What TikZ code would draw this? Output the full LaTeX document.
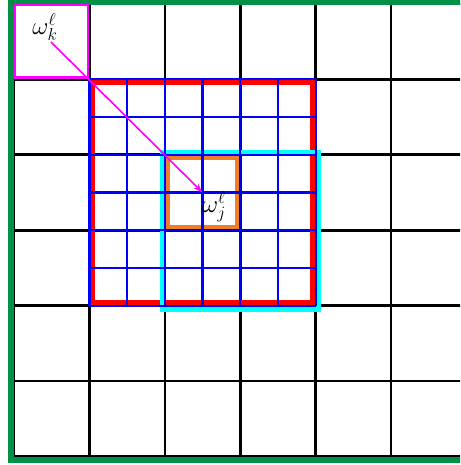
\documentclass[tikz,border=0pt]{standalone}
\usetikzlibrary{arrows.meta}
\definecolor{gborder}{RGB}{0,145,70}
\definecolor{orng}{RGB}{240,125,40}
\definecolor{cyn}{RGB}{0,255,255}
\definecolor{mgt}{RGB}{255,0,255}
\definecolor{rd}{RGB}{255,0,0}
\definecolor{bl}{RGB}{0,0,255}
\tikzset{
  blackgrid/.style={line width=2.6pt, black},
  bluegrid/.style={line width=2.2pt, bl},
  redbox/.style={line width=5.5pt, rd},
  cyanbox/.style={line width=5pt, cyn},
  orangebox/.style={line width=4pt, orng},
  magbox/.style={line width=2.2pt, mgt},
  greenbox/.style={line width=6pt, gborder},
  arr/.style={line width=1.6pt, mgt, -{Stealth[length=9pt,width=6pt]}},
  lbl/.style={inner sep=0pt, font=\fontsize{23}{26}\selectfont}
}
\begin{document}
\begin{tikzpicture}[x=1pt,y=-1pt]
\useasboundingbox (0,0) rectangle (460,465);
\clip (0,0) rectangle (460,465);
% black grid
\foreach \i in {0,...,6}{
  \draw[blackgrid] ({14+75.4*\i},4) -- ({14+75.4*\i},456.4);
  \draw[blackgrid] (14,{4+75.4*\i}) -- (466.4,{4+75.4*\i});
}
% green border
\draw[greenbox] (11,2.5) rectangle (480,460);
% red box
\draw[redbox] (92.5,82.2) rectangle (312.5,303);
% cyan box
\draw[cyanbox] (162.3,152.3) rectangle (318.3,309.3);
% orange box
\draw[orangebox] (167.8,158) rectangle (237.2,227.4);
% blue fine grid
\foreach \i in {0,...,6}{
  \draw[bluegrid] ({89.4+37.7*\i},79.4) -- ({89.4+37.7*\i},305.6);
  \draw[bluegrid] (89.4,{79.4+37.7*\i}) -- (315.6,{79.4+37.7*\i});
}
% magenta box
\draw[magbox] (15,5) rectangle (88,77.5);
% labels
\node[lbl] (wk) at (45,27) {$\omega_k^\ell$};
\node[lbl] (wj) at (214,207) {$\omega_j^\ell$};
\coordinate (s) at (51,42);
\coordinate (e) at (202.5,192.5);
\draw[arr] (s) -- (e);
\end{tikzpicture}
\end{document}
